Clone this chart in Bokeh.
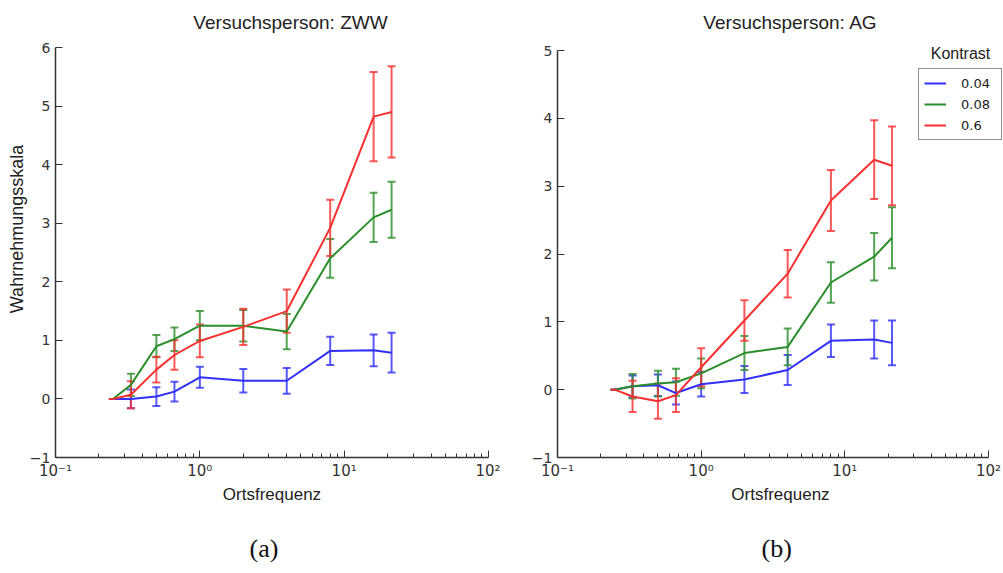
from bokeh.plotting import figure
from bokeh.layouts import row
from bokeh.models import (ColumnDataSource, Whisker, TeeHead, FixedTicker, Label,
                          Legend, LegendItem, Title)
from bokeh.embed import file_html
from bokeh.resources import INLINE

# ---------------- data ----------------
freq = [0.25, 0.333, 0.5, 0.667, 1, 2, 4, 8, 16, 21.3]
contrasts = ["0.04", "0.08", "0.6"]

# Versuchsperson ZWW
zww_004 = [0, 0.0, 0.04, 0.125, 0.37, 0.31, 0.31, 0.82, 0.83, 0.79]
zww_004_err = [0, 0.16, 0.16, 0.17, 0.18, 0.20, 0.22, 0.24, 0.27, 0.34]
zww_008 = [0, 0.24, 0.90, 1.02, 1.25, 1.25, 1.15, 2.40, 3.10, 3.23]
zww_008_err = [0, 0.19, 0.19, 0.20, 0.25, 0.27, 0.30, 0.33, 0.42, 0.48]
zww_06 = [0, 0.07, 0.50, 0.75, 0.99, 1.23, 1.50, 2.92, 4.82, 4.90]
zww_06_err = [0, 0.23, 0.22, 0.25, 0.28, 0.31, 0.37, 0.48, 0.76, 0.78]

# Versuchsperson AG
ag_004 = [0, 0.05, 0.065, -0.05, 0.08, 0.15, 0.29, 0.72, 0.74, 0.69]
ag_004_err = [0, 0.16, 0.16, 0.17, 0.18, 0.20, 0.22, 0.24, 0.28, 0.33]
ag_008 = [0, 0.05, 0.09, 0.11, 0.24, 0.54, 0.63, 1.58, 1.96, 2.24]
ag_008_err = [0, 0.18, 0.19, 0.20, 0.22, 0.25, 0.27, 0.30, 0.35, 0.45]
ag_06 = [0, -0.10, -0.17, -0.08, 0.33, 1.02, 1.71, 2.79, 3.39, 3.30]
ag_06_err = [0, 0.23, 0.26, 0.25, 0.28, 0.30, 0.35, 0.45, 0.58, 0.58]

x_major = [0.1, 1, 10, 100]
x_major_labels = ["10\u207b\u00b9", "10\u2070", "10\u00b9", "10\u00b2"]
x_minor = [m * d for d in (0.1, 1, 10) for m in range(2, 10)]

colors = ["#3030f8", "#2a8f2a", "#f83030"]

SANS = "Liberation Sans"
TICKF = "DejaVu Sans"

BOTTOM = 116          # canvas pixels below the x axis
AXIS_Y = 573 - BOTTOM  # x axis position (457)


def make_panel(series, errs, ymax, y_top_px, title, left_border, right_border,
               right_px, width, show_ylabel, tag):
    frame_w = width - left_border - right_border
    dec_px = (right_px - left_border) / 3.0          # pixels per decade
    x_end = 10 ** (-1 + frame_w / dec_px)
    unit_px = (AXIS_Y - y_top_px) / (ymax + 1)        # pixels per y unit
    y_end = ymax + y_top_px / unit_px

    p = figure(width=width, height=573, x_axis_type="log",
               x_range=(0.1, x_end), y_range=(-1, y_end),
               output_backend="svg", toolbar_location=None,
               min_border_left=left_border, min_border_right=right_border,
               min_border_top=0, min_border_bottom=BOTTOM)
    p.outline_line_color = None
    p.xgrid.grid_line_color = None
    p.ygrid.grid_line_color = None
    p.background_fill_color = "white"

    renderers = []
    for ys, es, c in zip(series, errs, colors):
        src = ColumnDataSource(dict(
            x=freq, y=ys,
            upper=[a + b for a, b in zip(ys, es)],
            lower=[a - b for a, b in zip(ys, es)]))
        w = Whisker(base="x", upper="upper", lower="lower", source=src,
                    dimension="height", line_color=c, line_width=2,
                    line_alpha=0.8,
                    upper_head=TeeHead(size=8, line_color=c, line_width=2, line_alpha=0.8),
                    lower_head=TeeHead(size=8, line_color=c, line_width=2, line_alpha=0.8))
        p.add_layout(w)
        r = p.line("x", "y", source=src, line_color=c, line_width=2)
        renderers.append(r)

    xa = p.xaxis[0]
    xa.ticker = FixedTicker(ticks=x_major, minor_ticks=x_minor)
    xa.major_label_overrides = dict(zip(x_major, x_major_labels))
    xa.bounds = (0.1, 100)
    yticks = list(range(-1, ymax + 1))
    ya = p.yaxis[0]
    ya.ticker = FixedTicker(ticks=yticks)
    ya.major_label_overrides = {-1: "\u22121"}
    ya.bounds = (-1, ymax)
    for ax in (xa, ya):
        ax.axis_line_color = "#333333"
        ax.axis_line_width = 1.5
        ax.major_tick_line_color = "#333333"
        ax.minor_tick_line_color = "#333333"
        ax.major_tick_in = 7
        ax.major_tick_out = 0
        ax.minor_tick_in = 4
        ax.minor_tick_out = 0
        ax.major_label_text_font = TICKF
        ax.major_label_text_font_size = "14px"
        ax.major_label_text_color = "#333333"
        ax.axis_label_text_font = SANS
        ax.axis_label_text_font_size = "17px"
        ax.axis_label_text_font_style = "normal"
        ax.axis_label_text_color = "#222222"
    xa.major_label_text_font_size = "15px"
    ya.major_label_standoff = 5
    xa.major_label_standoff = 4
    xa.axis_label = "Ortsfrequenz"
    xa.axis_label_standoff = 2
    if show_ylabel:
        ya.axis_label = "Wahrnehmungsskala"
        ya.axis_label_text_font_size = "18px"
        ya.axis_label_standoff = 0

    p.add_layout(Label(x=title[1], y=AXIS_Y - 22, x_units="screen", y_units="screen",
                       text=title[0], text_align="center", text_baseline="middle",
                       text_font=SANS, text_font_size="19px", text_color="#222222"))
    # spacer between the x axis and the panel tag
    p.add_layout(Title(text=" ", text_font_size="1px", standoff=20), "below")
    p.add_layout(Title(text=tag[0], align="left", offset=tag[1], standoff=4,
                       text_font="Liberation Serif", text_font_size="26px",
                       text_font_style="normal", text_color="#111111"), "below")
    return p, renderers


p1, _ = make_panel([zww_004, zww_008, zww_06], [zww_004_err, zww_008_err, zww_06_err],
                   6, 47, ("Versuchsperson: ZWW", 235), 55, 12, 488, 500, True,
                   ("(a)", 194))
p2, rs = make_panel([ag_004, ag_008, ag_06], [ag_004_err, ag_008_err, ag_06_err],
                    5, 50, ("Versuchsperson: AG", 233), 57, 0, 488, 503, False,
                    ("(b)", 204))

legend = Legend(items=[LegendItem(label=c, renderers=[r]) for c, r in zip(contrasts, rs)],
                location=(361, 317), border_line_color="#222222", border_line_width=1.5,
                background_fill_color="white", background_fill_alpha=1.0,
                label_text_font=TICKF, label_text_font_size="13px", label_text_color="#222222",
                glyph_width=22, glyph_height=18, label_height=18, label_width=35,
                spacing=3, padding=5, margin=0, label_standoff=15)
p2.add_layout(legend)
p2.add_layout(Label(x=403, y=AXIS_Y - 53, x_units="screen", y_units="screen", text="Kontrast",
                    text_align="center", text_baseline="middle", text_font=SANS,
                    text_font_size="16px", text_color="#222222"))

layout = row(p1, p2, spacing=0)
open("out.html", "w").write(file_html(layout, INLINE))
